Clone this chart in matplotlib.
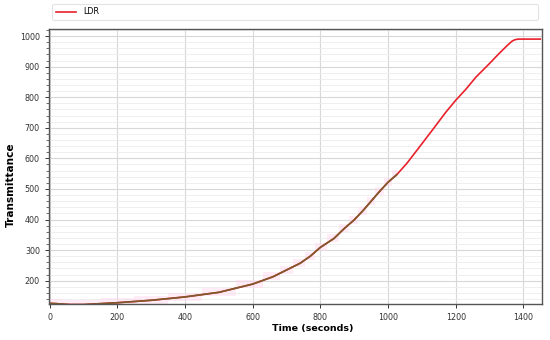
import numpy as np
import matplotlib.pyplot as plt
from matplotlib.ticker import MultipleLocator

# LDR reading over time
time_s = [0, 20, 60, 100, 200, 300, 400, 500, 600, 660, 700, 740, 770, 800, 840, 870,
          900, 925, 950, 975, 1000, 1026, 1055, 1085, 1134, 1170, 1200, 1230, 1260,
          1297, 1330, 1355, 1366, 1375, 1385, 1400, 1450]
ldr = [126, 125, 122, 122, 128, 136, 147, 162, 189, 213, 235, 257, 280, 309, 338, 370,
       399, 428, 460, 492, 522, 547, 583, 626, 697, 750, 790, 826, 866,
       907, 945, 972, 983, 988, 990, 990, 990]
overlay_end = 1026  # the darker trace stops here

t = np.array(time_s)
y = np.array(ldr)
mask = t <= overlay_end

fig = plt.figure(figsize=(5.5, 3.4), dpi=100)
ax = fig.add_axes([0.089, 0.106, 0.8965, 0.8087])

# faint pink band around the early part of the curve
ax.fill_between(t[mask], y[mask] - 12, y[mask] + 14, color='#ffd6ec', alpha=0.45, lw=0, step='mid')

ax.plot(t, y, color='#e8212b', lw=1.2, label='LDR')
ax.plot(t[mask], y[mask], color='#7d5a2c', lw=1.2)

ax.set_xlim(-2, 1455)
ax.set_ylim(124, 1023)
ax.xaxis.set_major_locator(MultipleLocator(200))
ax.yaxis.set_major_locator(MultipleLocator(100))
ax.yaxis.set_minor_locator(MultipleLocator(20))

ax.grid(which='major', color='#d8d8d8', lw=0.8)
ax.grid(which='minor', axis='y', color='#ececec', lw=0.6)
ax.set_axisbelow(True)

for sp in ax.spines.values():
    sp.set_color('#555555')
    sp.set_linewidth(1.0)

ax.tick_params(axis='both', labelsize=5.8, colors='#333333', length=3, width=0.7)
ax.tick_params(axis='y', which='minor', length=2, width=0.6, colors='#555555')

ax.set_xlabel('Time (seconds)', fontsize=6.8, fontweight='bold')
ax.xaxis.set_label_coords(0.535, -0.072)
ax.set_ylabel('Transmittance', fontsize=7.6, fontweight='bold')
ax.yaxis.set_label_coords(-0.068, 0.433)

leg = ax.legend(loc='lower left', bbox_to_anchor=(0.006, 1.033, 0.985, 0.05), mode='expand',
                fontsize=5.8, frameon=True, fancybox=True, borderpad=0.45,
                borderaxespad=0, handlelength=2.6, handleheight=0.5)
leg.get_frame().set_edgecolor('#dddddd')
leg.get_frame().set_linewidth(0.8)

fig.savefig('out.png', dpi=100)
